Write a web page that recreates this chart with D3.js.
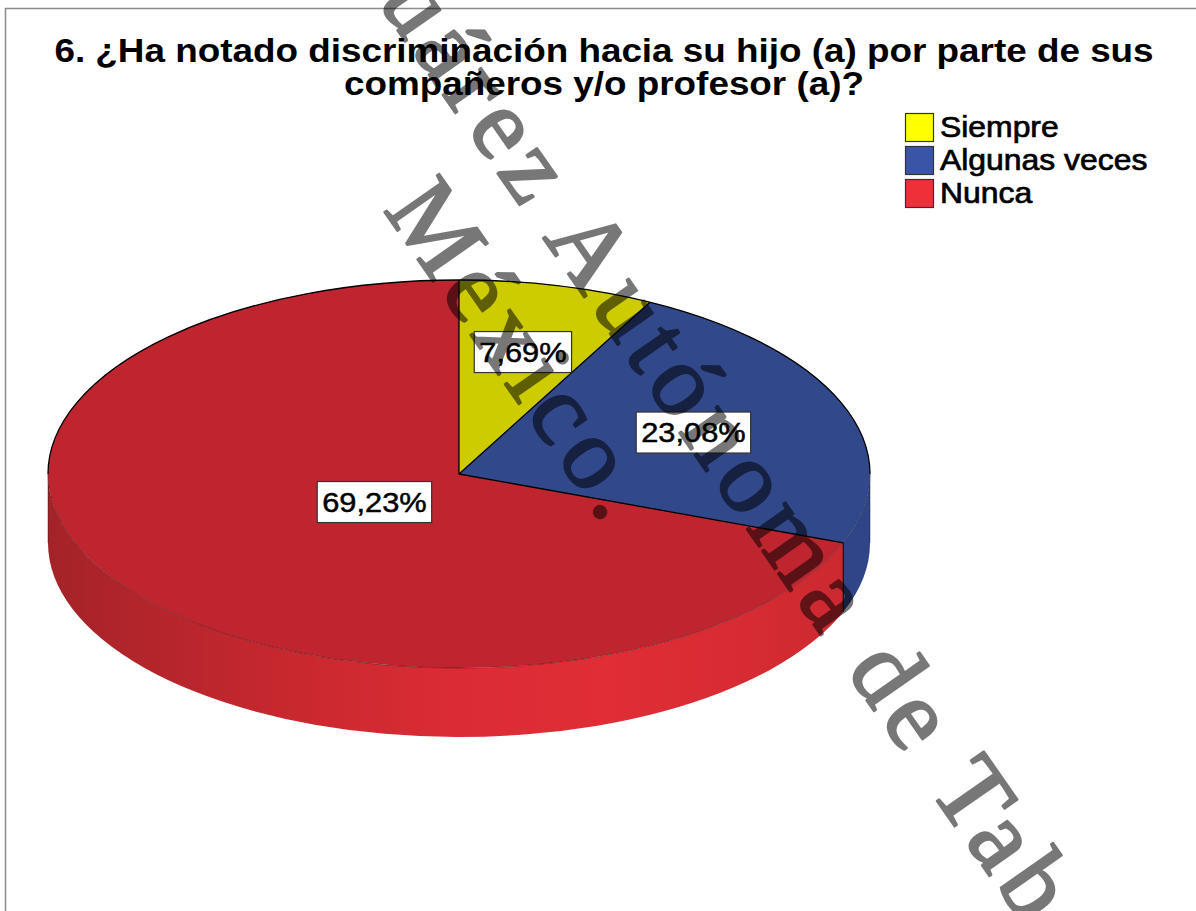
<!DOCTYPE html>
<html>
<head>
<meta charset="utf-8">
<script src="https://cdn.jsdelivr.net/npm/d3@7"></script>
<style>
  body { margin: 0; background: #fff; }
  svg { display: block; }
</style>
</head>
<body>
<div id="chart"></div>
<script>
// chart data
var categories = ["Siempre", "Algunas veces", "Nunca"];
var percentages = [7.69, 23.08, 69.23];
var legendColors = ["#ffff00", "#3a55a7", "#ee3039"];
var topColors = ["#cccc00", "#31488b", "#bf252e"];
var titleLines = ["6. ¿Ha notado discriminación hacia su hijo (a) por parte de sus",
                  "compañeros y/o profesor (a)?"];
var watermarkLines = ["Universidad Juárez Autónoma de Tabasco.", "México."];

// layout
var width = 1196, height = 911;
var cx = 459, cy = 474, rx = 411, ry = 194, depth = 69;
var labelRadius = [0.65, 0.61, 0.25];
var stretch = 1.1; // the original picture is a bit wider than tall
var sans = "'Liberation Sans', Arial, sans-serif";

var svg = d3.select("#chart").append("svg")
  .attr("width", width)
  .attr("height", height);

// side wall gradients, one per slice
var defs = svg.append("defs");
var sideStops = [
  [["0", "#a6a600"], ["1", "#b8b800"]],
  [["0", "#2b3f7f"], ["1", "#2f4588"]],
  [["0", "#a42328"], ["0.12", "#b3252b"], ["0.3", "#c9282f"], ["0.5", "#db2c35"],
   ["0.68", "#e02d36"], ["0.85", "#d72b33"], ["1", "#c8282f"]]
];
sideStops.forEach(function(stops, i) {
  var grad = defs.append("linearGradient")
    .attr("id", "side" + i)
    .attr("gradientUnits", "userSpaceOnUse")
    .attr("x1", cx - rx).attr("x2", cx + rx)
    .attr("y1", 0).attr("y2", 0);
  grad.selectAll("stop").data(stops).enter().append("stop")
    .attr("offset", function(d) { return d[0]; })
    .attr("stop-color", function(d) { return d[1]; });
});

// frame
svg.append("rect")
  .attr("x", 5.5).attr("y", 8.5)
  .attr("width", width + 20).attr("height", height + 20)
  .attr("fill", "none")
  .attr("stroke", "#8c8c8c")
  .attr("stroke-width", 1.5);

// pie angles (0 = 12 o'clock, clockwise)
var pie = d3.pie().sort(null).value(function(d) { return d; });
var arcs = pie(percentages);

function pt(a, dy) {
  return [cx + rx * Math.sin(a), cy - ry * Math.cos(a) + (dy || 0)];
}

// side walls, only the front half (pi/2 .. 3pi/2) shows
var sides = svg.append("g").attr("class", "sides");
arcs.forEach(function(d, i) {
  var a = Math.max(d.startAngle, Math.PI / 2);
  var b = Math.min(d.endAngle, 3 * Math.PI / 2);
  if (b <= a) return;
  var p0 = pt(a), p1 = pt(b), q1 = pt(b, depth), q0 = pt(a, depth);
  var large = (b - a) > Math.PI ? 1 : 0;
  var path = "M" + p0 + "A" + rx + "," + ry + " 0 " + large + " 1 " + p1 +
    "L" + q1 + "A" + rx + "," + ry + " 0 " + large + " 0 " + q0 + "Z";
  sides.append("path")
    .attr("d", path)
    .attr("fill", "url(#side" + i + ")");
  // vertical edges of the wall
  [a, b].forEach(function(ang) {
    var s = pt(ang), e = pt(ang, depth);
    var silhouette = Math.abs(ang - Math.PI / 2) < 1e-6 || Math.abs(ang - 3 * Math.PI / 2) < 1e-6;
    sides.append("line")
      .attr("x1", s[0]).attr("y1", s[1])
      .attr("x2", e[0]).attr("y2", e[1])
      .attr("stroke", "#111")
      .attr("stroke-opacity", silhouette ? 0.35 : 0.9)
      .attr("stroke-width", 1.2);
  });
});

// top faces
var tops = svg.append("g").attr("class", "tops");
tops.selectAll("path")
  .data(arcs)
  .enter().append("path")
  .attr("d", function(d) {
    var large = (d.endAngle - d.startAngle) > Math.PI ? 1 : 0;
    return "M" + cx + "," + cy + "L" + pt(d.startAngle) +
      "A" + rx + "," + ry + " 0 " + large + " 1 " + pt(d.endAngle) + "Z";
  })
  .attr("fill", function(d, i) { return topColors[i]; })
  .attr("stroke", "none");

// outlines: radial edges, back rim dark, front rim faint
arcs.forEach(function(d) {
  var p = pt(d.startAngle);
  tops.append("line")
    .attr("x1", cx).attr("y1", cy)
    .attr("x2", p[0]).attr("y2", p[1])
    .attr("stroke", "#000").attr("stroke-width", 1.3);
});
tops.append("path")
  .attr("d", "M" + pt(-Math.PI / 2) + "A" + rx + "," + ry + " 0 0 1 " + pt(Math.PI / 2))
  .attr("fill", "none").attr("stroke", "#000").attr("stroke-width", 1.3);
tops.append("path")
  .attr("d", "M" + pt(Math.PI / 2) + "A" + rx + "," + ry + " 0 0 1 " + pt(3 * Math.PI / 2))
  .attr("fill", "none").attr("stroke", "#000").attr("stroke-opacity", 0.3)
  .attr("stroke-width", 1);

// value labels
function fmt(v) { return v.toFixed(2).replace(".", ",") + "%"; }
var labels = svg.append("g").attr("class", "labels");
arcs.forEach(function(d, i) {
  var mid = (d.startAngle + d.endAngle) / 2;
  var r = labelRadius[i];
  var x = cx + rx * r * Math.sin(mid), y = cy - ry * r * Math.cos(mid);
  var g = labels.append("g");
  var t = g.append("text")
    .attr("transform", "translate(" + x + "," + (y + 10) + ") scale(" + stretch + ",1)")
    .attr("text-anchor", "middle")
    .attr("font-family", sans)
    .attr("font-size", 28)
    .attr("fill", "#000")
    .attr("stroke", "#000")
    .attr("stroke-width", 0.5)
    .text(fmt(d.data));
  var w = t.node().getComputedTextLength() * stretch + 10;
  g.insert("rect", "text")
    .attr("x", x - w / 2).attr("y", y - 20)
    .attr("width", w).attr("height", 41)
    .attr("fill", "#fff")
    .attr("stroke", "#333")
    .attr("stroke-width", 1.2);
});

// legend
var legend = svg.append("g").attr("class", "legend");
categories.forEach(function(c, i) {
  var y = 113 + i * 33;
  legend.append("rect")
    .attr("x", 905.5).attr("y", y + 0.5)
    .attr("width", 28).attr("height", 28)
    .attr("fill", legendColors[i])
    .attr("stroke", "#333")
    .attr("stroke-width", 1.2);
  legend.append("text")
    .attr("transform", "translate(940," + (y + 24) + ") scale(" + stretch + ",1)")
    .attr("font-family", sans)
    .attr("font-size", 29)
    .attr("fill", "#000")
    .attr("stroke", "#000")
    .attr("stroke-width", 0.7)
    .text(c);
});

// title
titleLines.forEach(function(line, i) {
  svg.append("text")
    .attr("transform", "translate(604," + (62 + i * 33) + ") scale(" + stretch + ",1)")
    .attr("text-anchor", "middle")
    .attr("font-family", sans)
    .attr("font-weight", "bold")
    .attr("font-size", 33.5)
    .attr("fill", "#000")
    .text(line);
});

// watermark, placed by the centre of one letter in each line
var wmAngle = 55, wmSpacing = 8;
function watermark(str, idx, target) {
  var g = svg.append("g")
    .attr("opacity", 0.53)
    .attr("transform", "translate(" + target[0] + "," + target[1] + ") rotate(" + wmAngle + ")");
  var t = g.append("text")
    .attr("font-family", "'Liberation Serif', 'Times New Roman', serif")
    .attr("font-size", 102)
    .attr("letter-spacing", wmSpacing)
    .attr("fill", "#000")
    .attr("stroke", "#000")
    .attr("stroke-width", 2.4)
    .attr("stroke-linejoin", "round")
    .text(str);
  var e = t.node().getExtentOfChar(idx);
  t.attr("x", -(e.x + (e.width - wmSpacing) / 2)).attr("y", -(e.y + e.height / 2));
}
watermark(watermarkLines[0], watermarkLines[0].indexOf("Autónoma"), [592, 248]);
watermark(watermarkLines[1], 0, [437, 227]);
</script>
</body>
</html>
